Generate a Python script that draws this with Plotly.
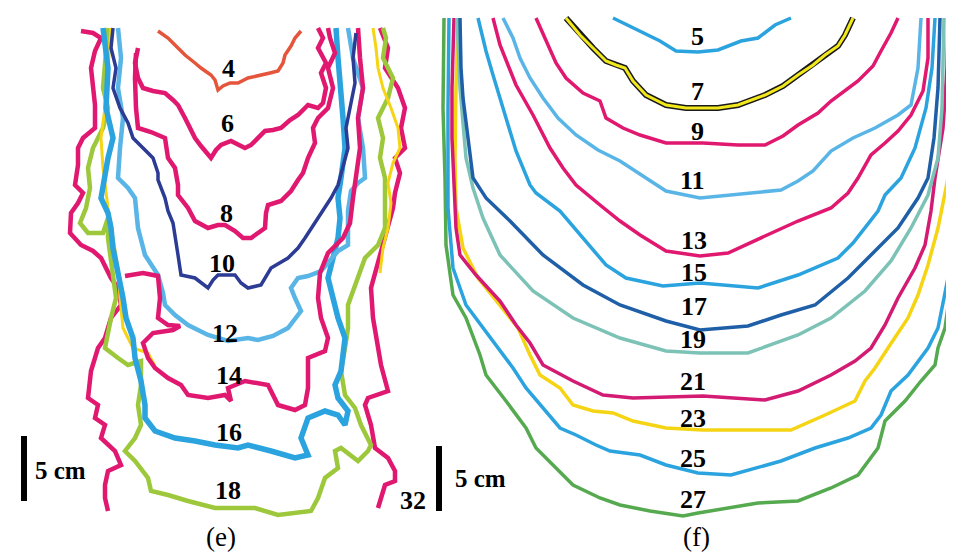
import plotly.graph_objects as go

# ---------------- Panel (e) contours (pixel-space readings) ----------------
e4_x = [150, 160, 170, 177, 187, 193, 203, 207, 210, 215, 222, 230, 240, 250, 262, 270, 275, 277, 283, 287, 293]
e4_y = [23, 30, 40, 47, 55, 60, 67, 72, 82, 78, 75, 75, 70, 68, 65, 63, 55, 47, 38, 30, 23]

e6_x = [130, 127, 130, 135, 145, 157, 165, 170, 177, 183, 187, 193, 197, 203, 208, 213, 223, 232, 237, 243, 250, 257, 265, 273, 282, 290, 300, 310, 315, 318, 313, 318, 310, 315, 310]
e6_y = [40, 55, 70, 80, 83, 85, 92, 97, 110, 122, 130, 138, 143, 150, 142, 137, 133, 138, 140, 137, 130, 123, 122, 120, 112, 107, 97, 100, 95, 80, 65, 55, 40, 30, 20]

e8_x = [128, 127, 128, 130, 143, 157, 160, 167, 170, 170, 180, 187, 200, 210, 217, 227, 235, 243, 250, 257, 258, 260, 273, 283, 290, 295, 300, 307, 305, 310, 320, 325, 320, 327, 322, 320]
e8_y = [45, 70, 100, 120, 124, 130, 150, 160, 177, 187, 200, 213, 220, 217, 217, 223, 230, 230, 225, 220, 205, 197, 193, 183, 172, 165, 150, 135, 120, 110, 100, 80, 60, 45, 30, 20]

e10_x = [105, 103, 108, 105, 112, 120, 125, 135, 145, 150, 150, 157, 160, 165, 167, 170, 173, 187, 200, 205, 210, 227, 233, 240, 253, 263, 280, 290, 297, 310, 323, 330, 335, 340, 338, 342, 347, 345, 348]
e10_y = [20, 40, 60, 80, 100, 115, 130, 140, 150, 165, 172, 190, 203, 215, 230, 247, 267, 270, 280, 272, 267, 267, 275, 280, 277, 260, 250, 240, 230, 210, 190, 177, 160, 140, 120, 100, 75, 50, 25]

e12_x = [110, 113, 110, 115, 112, 110, 120, 127, 130, 137, 150, 155, 157, 167, 180, 200, 220, 240, 250, 265, 280, 293, 287, 283, 290, 300, 313, 325, 330, 340, 340, 340, 343, 350, 357, 355, 350, 355, 345, 340]
e12_y = [20, 50, 80, 110, 140, 170, 180, 190, 220, 247, 267, 285, 297, 307, 317, 327, 333, 330, 332, 328, 320, 303, 290, 280, 270, 268, 263, 250, 243, 237, 220, 203, 183, 175, 170, 140, 110, 80, 50, 20]

e14_x = [117, 135, 150, 152, 150, 160, 172, 165, 145, 135, 140, 147, 160, 173, 180, 200, 217, 223, 220, 237, 260, 270, 287, 297, 300, 300, 317, 320, 313, 310, 312, 320, 335, 342, 345, 348, 352, 350, 355, 352, 350]
e14_y = [268, 265, 268, 290, 310, 317, 318, 322, 325, 335, 350, 360, 370, 377, 387, 390, 387, 393, 380, 373, 377, 397, 402, 397, 380, 350, 343, 330, 310, 290, 265, 245, 230, 215, 190, 170, 140, 110, 80, 50, 20]

e16_x = [95, 100, 98, 105, 100, 95, 93, 100, 103, 105, 110, 115, 118, 125, 127, 133, 137, 137, 147, 167, 187, 207, 230, 240, 263, 287, 300, 293, 300, 317, 330, 337, 340, 330, 327, 333, 337, 330, 325, 320, 325, 330, 332, 330, 333, 337, 335, 332, 330, 328]
e16_y = [20, 60, 100, 130, 150, 175, 190, 205, 220, 240, 263, 290, 310, 330, 350, 373, 397, 410, 423, 430, 433, 437, 440, 437, 443, 450, 447, 430, 410, 403, 407, 417, 403, 390, 377, 363, 330, 310, 290, 270, 250, 230, 210, 190, 170, 140, 110, 80, 50, 20]

e18_x = [100, 98, 95, 100, 95, 85, 80, 82, 78, 72, 80, 95, 100, 100, 103, 105, 108, 103, 100, 97, 110, 120, 133, 133, 130, 133, 127, 117, 127, 140, 143, 160, 180, 207, 230, 247, 270, 303, 310, 317, 330, 327, 333, 350, 360, 363, 353, 347, 337, 333, 337, 340, 340, 350, 357, 370, 377, 377, 377, 377, 372, 375, 370, 380, 385, 375, 378, 375]
e18_y = [20, 50, 80, 100, 120, 140, 160, 180, 200, 215, 225, 225, 210, 230, 250, 270, 290, 310, 325, 340, 350, 357, 353, 377, 397, 417, 430, 443, 453, 470, 483, 487, 493, 500, 500, 500, 507, 503, 490, 470, 460, 443, 440, 453, 443, 437, 417, 400, 387, 363, 340, 320, 297, 270, 250, 237, 220, 203, 185, 170, 150, 130, 110, 90, 70, 50, 30, 20]

ey_left_x = [103, 100, 97, 93, 95, 100, 105, 110, 112, 115, 125, 140, 147]
ey_left_y = [20, 60, 100, 130, 160, 200, 230, 260, 290, 320, 340, 345, 358]
ey_right_x = [365, 368, 370, 375, 383, 390, 392, 385, 380, 383, 380, 375, 372]
ey_right_y = [20, 40, 60, 80, 100, 120, 140, 155, 175, 195, 220, 240, 265]

e32_left_x = [73, 85, 93, 87, 83, 85, 87, 87, 75, 70, 70, 67, 75, 70, 63, 62, 73, 85, 93, 103, 110, 113, 103, 97, 90, 83, 80, 90, 87, 97, 93, 107, 113, 100, 97, 97, 100]
e32_left_y = [23, 25, 30, 43, 60, 80, 97, 120, 130, 140, 157, 177, 185, 195, 205, 225, 237, 243, 250, 270, 280, 297, 310, 330, 340, 363, 390, 397, 410, 417, 430, 443, 457, 463, 477, 490, 503]
e32_right_x = [372, 380, 377, 390, 397, 393, 397, 387, 392, 387, 385, 377, 370, 363, 365, 370, 373, 380, 360, 357, 363, 367, 380, 387, 387, 377, 373, 370]
e32_right_y = [20, 40, 60, 80, 100, 120, 140, 150, 165, 185, 200, 230, 253, 280, 310, 340, 357, 383, 390, 397, 417, 440, 450, 463, 473, 477, 490, 500]

# ---------------- Panel (f) contours ----------------
f5_x = [605, 625, 652, 668, 690, 710, 733, 750, 767, 783]
f5_y = [10, 20, 33, 43, 44, 42, 33, 30, 17, 10]

f7_x = [558, 565, 572, 585, 598, 608, 617, 625, 638, 658, 678, 695, 710, 730, 757, 775, 790, 805, 817, 830, 837, 845]
f7_y = [10, 18, 27, 40, 53, 57, 60, 73, 87, 97, 100, 100, 100, 97, 87, 78, 67, 57, 47, 38, 27, 10]

f9_x = [528, 538, 548, 558, 575, 592, 598, 615, 632, 658, 695, 730, 757, 775, 790, 810, 823, 850, 865, 873, 883, 890]
f9_y = [10, 33, 55, 70, 85, 93, 110, 120, 127, 135, 135, 137, 137, 128, 117, 105, 93, 73, 58, 43, 25, 10]

f11_x = [495, 505, 512, 522, 535, 550, 568, 590, 612, 642, 658, 692, 740, 773, 790, 805, 823, 845, 867, 890, 903, 910, 913]
f11_y = [10, 30, 50, 70, 90, 110, 127, 142, 153, 173, 183, 190, 185, 182, 173, 163, 143, 130, 120, 107, 97, 60, 10]

f13_x = [485, 492, 500, 508, 525, 542, 555, 568, 592, 612, 632, 658, 692, 720, 757, 790, 823, 840, 850, 863, 877, 890, 903, 915, 920, 920]
f13_y = [10, 37, 57, 77, 107, 140, 160, 177, 197, 213, 227, 243, 248, 245, 228, 213, 200, 185, 170, 147, 135, 123, 107, 83, 50, 10]

f15_x = [470, 478, 485, 495, 508, 522, 528, 552, 578, 598, 618, 655, 692, 750, 790, 830, 845, 857, 870, 877, 893, 907, 918, 924, 927]
f15_y = [10, 43, 67, 100, 143, 177, 185, 203, 233, 257, 270, 278, 275, 280, 267, 250, 235, 220, 203, 187, 170, 140, 100, 60, 10]

f17_x = [452, 453, 455, 460, 465, 478, 502, 535, 575, 612, 658, 692, 740, 773, 807, 840, 867, 890, 910, 920, 926, 930, 932]
f17_y = [10, 60, 90, 130, 170, 190, 213, 247, 277, 297, 313, 322, 318, 307, 297, 270, 243, 220, 190, 170, 130, 80, 10]

f19_x = [449, 452, 458, 465, 475, 492, 525, 565, 612, 658, 692, 740, 790, 823, 857, 883, 903, 920, 930, 934, 936]
f19_y = [10, 80, 150, 180, 210, 247, 283, 310, 330, 343, 345, 345, 327, 310, 283, 253, 220, 187, 150, 100, 10]

f21_x = [446, 444, 444, 446, 448, 452, 468, 492, 508, 522, 535, 565, 595, 625, 695, 757, 790, 823, 847, 863, 877, 890, 907, 917, 923, 927, 935, 939, 940]
f21_y = [10, 80, 130, 180, 220, 247, 267, 293, 317, 335, 357, 373, 387, 390, 388, 392, 383, 367, 353, 340, 317, 290, 260, 237, 203, 170, 120, 60, 10]

f23_x = [450, 448, 447, 448, 455, 470, 490, 510, 522, 532, 552, 565, 585, 605, 625, 658, 695, 783, 817, 847, 857, 867, 880, 900, 910, 920, 930, 937, 940, 943, 944, 945]
f23_y = [10, 80, 150, 200, 240, 270, 295, 320, 347, 367, 380, 397, 403, 405, 413, 420, 422, 422, 407, 393, 373, 360, 340, 310, 287, 257, 220, 187, 170, 133, 60, 10]

f25_x = [441, 440, 440, 445, 458, 475, 495, 505, 518, 538, 552, 568, 588, 602, 632, 658, 690, 723, 773, 807, 840, 863, 873, 883, 900, 920, 930, 940, 947, 950, 950, 949]
f25_y = [10, 100, 200, 260, 297, 320, 347, 360, 380, 403, 420, 427, 437, 443, 447, 457, 465, 467, 453, 440, 430, 420, 407, 383, 367, 340, 320, 270, 237, 200, 100, 10]

f27_x = [436, 435, 437, 438, 445, 458, 472, 478, 498, 518, 528, 548, 565, 592, 612, 642, 675, 690, 750, 790, 823, 850, 870, 877, 897, 913, 927, 930, 937, 943, 950, 953, 953, 953]
f27_y = [10, 100, 170, 237, 287, 310, 347, 367, 393, 420, 440, 460, 477, 490, 497, 503, 508, 505, 495, 493, 480, 467, 440, 413, 393, 373, 357, 340, 320, 277, 220, 197, 100, 10]

# ---------------- Labels ----------------
e_labels = ["4", "6", "8", "10", "12", "14", "16", "18", "32"]
e_label_x = [220, 219, 218, 214, 217, 221, 221, 220, 405]
e_label_y = [60, 115, 205, 255, 325, 367, 424, 482, 492]

f_labels = ["5", "7", "9", "11", "13", "15", "17", "19", "21", "23", "25", "27"]
f_label_x = [689, 689, 689, 684, 686, 686, 686, 685, 685, 685, 685, 685]
f_label_y = [28, 83, 123, 172, 232, 264, 298, 331, 373, 410, 450, 491]

panel_labels = ["(e)", "(f)"]
panel_label_x = [213, 688]
panel_label_y = [529, 529]

scale_text = ["5 cm", "5 cm"]
scale_bar_x = [16, 431]
scale_bar_top = [428, 438]
scale_bar_bottom = [493, 503]
scale_text_x = [52, 472]
scale_text_y = [462, 470]

MAG = "#e0186f"
ORANGE = "#e5553c"
LBLUE = "#5ab5e7"
BLUE = "#2ba3df"
DBLUE = "#2c3b93"
GREEN_Y = "#9dc83b"
YELLOW = "#f5d414"
F_DBLUE = "#1f5fa8"
TEAL = "#7cc2b6"
F_MAG = "#d41b74"
GREEN = "#55a94f"

fig = go.Figure()


def add_line(x, y, color, width):
    fig.add_trace(go.Scatter(x=x, y=y, mode="lines",
                             line=dict(color=color, width=width),
                             hoverinfo="skip", showlegend=False))


W_E = 4.5
# panel (e)
add_line(e32_left_x, e32_left_y, MAG, W_E)
add_line(e32_right_x, e32_right_y, MAG, W_E)
add_line(e18_x, e18_y, GREEN_Y, W_E)
add_line(ey_left_x, ey_left_y, YELLOW, 3)
add_line(ey_right_x, ey_right_y, YELLOW, 3)
add_line(e16_x, e16_y, BLUE, 5.5)
add_line(e12_x, e12_y, LBLUE, 4.5)
add_line(e14_x, e14_y, MAG, W_E)
add_line(e10_x, e10_y, DBLUE, 3.5)
add_line(e8_x, e8_y, MAG, W_E)
add_line(e6_x, e6_y, MAG, W_E)
add_line(e4_x, e4_y, ORANGE, 3.5)

# panel (f)
W_F = 3.5
add_line(f27_x, f27_y, GREEN, W_F)
add_line(f25_x, f25_y, BLUE, W_F)
add_line(f23_x, f23_y, YELLOW, W_F)
add_line(f21_x, f21_y, F_MAG, W_F)
add_line(f19_x, f19_y, TEAL, W_F)
add_line(f17_x, f17_y, F_DBLUE, W_F)
add_line(f15_x, f15_y, BLUE, W_F)
add_line(f13_x, f13_y, MAG, W_F)
add_line(f11_x, f11_y, LBLUE, W_F)
add_line(f9_x, f9_y, MAG, W_F)
add_line(f7_x, f7_y, "#1a1a1a", 6)
add_line(f7_x, f7_y, "#f2e81c", 3)
add_line(f5_x, f5_y, BLUE, W_F)

annotations = []
for t, x, y in zip(e_labels + f_labels, e_label_x + f_label_x, e_label_y + f_label_y):
    annotations.append(dict(x=x, y=y, text=t, showarrow=False, xanchor="center", yanchor="middle",
                            font=dict(family="Liberation Serif", size=26, color="black", weight="bold")))
for t, x, y in zip(panel_labels, panel_label_x, panel_label_y):
    annotations.append(dict(x=x, y=y, text=t, showarrow=False, xanchor="center", yanchor="middle",
                            font=dict(family="Liberation Serif", size=27, color="black")))
for t, x, y in zip(scale_text, scale_text_x, scale_text_y):
    annotations.append(dict(x=x, y=y, text=t, showarrow=False, xanchor="center", yanchor="middle",
                            font=dict(family="Liberation Serif", size=25, color="black", weight="bold")))

shapes = []
for x, y0, y1 in zip(scale_bar_x, scale_bar_top, scale_bar_bottom):
    shapes.append(dict(type="line", x0=x, x1=x, y0=y0, y1=y1, xref="x", yref="y",
                       line=dict(color="black", width=6)))

fig.update_layout(
    width=954, height=552,
    margin=dict(l=0, r=0, t=0, b=0),
    paper_bgcolor="white", plot_bgcolor="white",
    xaxis=dict(range=[0, 954], visible=False, fixedrange=True),
    yaxis=dict(range=[552, 0], visible=False, fixedrange=True),
    annotations=annotations, shapes=shapes, showlegend=False,
)

fig.write_html("out.html")
